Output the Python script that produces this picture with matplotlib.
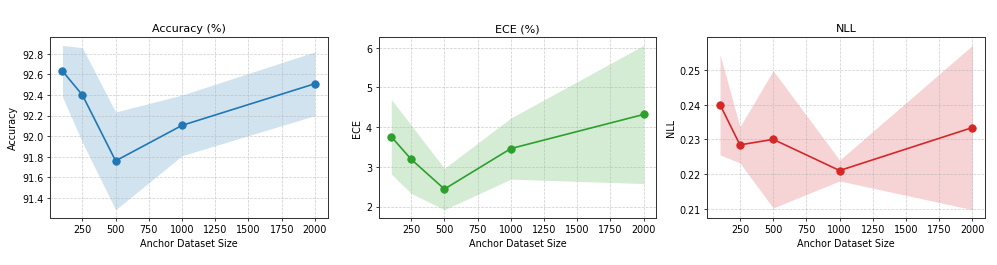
import matplotlib.pyplot as plt
import numpy as np

# anchor dataset sizes
sizes = [100, 250, 500, 1000, 2000]

# mean / std for each metric
acc_mean = [92.633, 92.40, 91.76, 92.105, 92.51]
acc_std = [0.25, 0.46, 0.475, 0.295, 0.31]

ece_mean = [3.76, 3.19, 2.44, 3.46, 4.32]
ece_std = [0.94, 0.86, 0.52, 0.77, 1.74]

nll_mean = [0.2400, 0.2284, 0.2300, 0.2210, 0.2334]
nll_std = [0.0145, 0.0052, 0.0198, 0.0030, 0.0237]

panels = [
    ('Accuracy (%)', 'Accuracy', acc_mean, acc_std, 'tab:blue'),
    ('ECE (%)', 'ECE', ece_mean, ece_std, 'tab:green'),
    ('NLL', 'NLL', nll_mean, nll_std, 'tab:red'),
]

fig, axes = plt.subplots(1, 3, figsize=(15, 4), dpi=66.47)
fig.subplots_adjust(left=0.050, right=0.988, top=0.857, bottom=0.177, wspace=0.184)

for ax, (title, ylabel, mean, std, color) in zip(axes, panels):
    x = np.array(sizes)
    m = np.array(mean)
    s = np.array(std)
    ax.plot(x, m, marker='o', color=color, linewidth=1.8, markersize=8)
    ax.fill_between(x, m - s, m + s, color=color, alpha=0.2, linewidth=0)
    ax.set_title(title, fontsize=12)
    ax.set_xlabel('Anchor Dataset Size', fontsize=10.5)
    ax.set_ylabel(ylabel, fontsize=10.5)
    ax.tick_params(labelsize=10.5)
    ax.grid(True, linestyle='--', alpha=0.6)
    for sp in ax.spines.values():
        sp.set_color('#333333')
        sp.set_linewidth(1.1)

plt.savefig('out.png', dpi=66.47)
